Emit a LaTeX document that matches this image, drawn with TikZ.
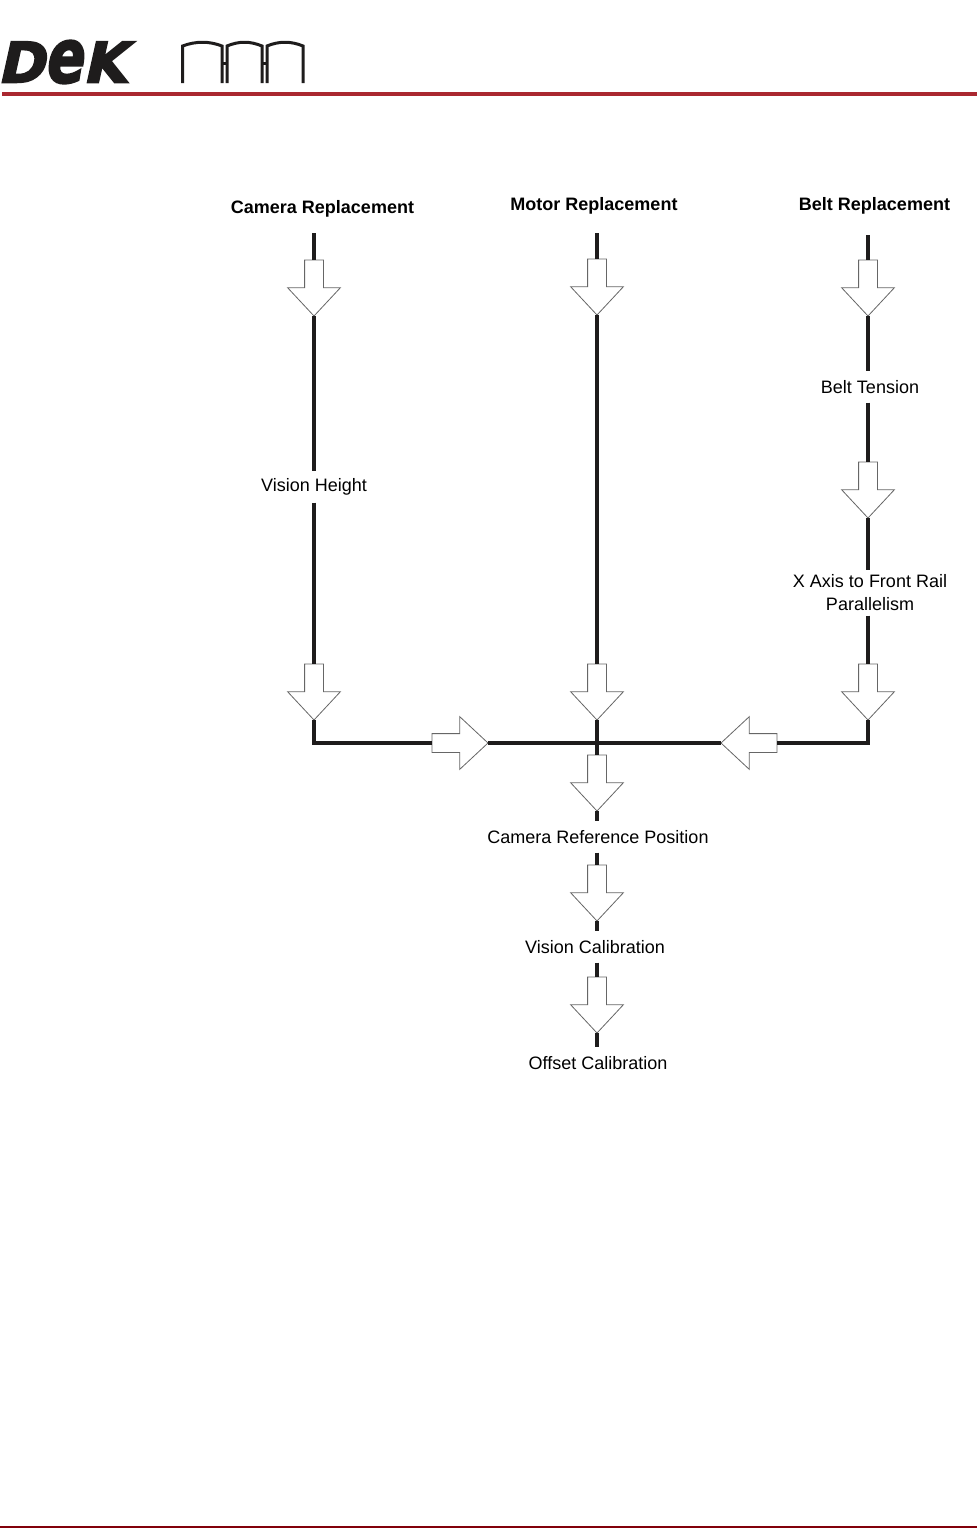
\documentclass[tikz,border=0pt]{standalone}
\usepackage{fontspec}
\usepackage{graphicx}
\setmainfont{Liberation Sans}
\newfontfamily\logofont[FakeBold=3,FakeSlant=0.22]{DejaVu Sans Bold}
\usetikzlibrary{shapes.arrows, positioning}
\definecolor{rulered}{RGB}{170,40,48}
\definecolor{footred}{RGB}{130,0,10}
\definecolor{flowblack}{RGB}{30,28,28}
\tikzset{
    flowline/.style={line width=4pt, flowblack},
    blockarrow/.style={single arrow, draw=black!60, fill=white, line width=0.8pt,
        minimum height=56pt, minimum width=52pt, single arrow head extend=17pt,
        single arrow tip angle=86, inner sep=9pt, outer sep=0pt, anchor=tip},
    downarrow/.style={blockarrow, shape border rotate=270},
    steplabel/.style={font=\fontsize{18}{23}\selectfont, text=black, align=center,
        inner sep=0pt, minimum height=31pt},
    headlabel/.style={font=\fontsize{18}{23}\selectfont\bfseries, text=black, inner sep=0pt},
    archline/.style={line width=3pt, flowblack}
}

\begin{document}
\begin{tikzpicture}[x=1pt, y=-1pt]
    \useasboundingbox (0,0) rectangle (979,1529);

    % Logo and rules
    \node[inner sep=0pt, anchor=west, text=flowblack] (logotext) at (-3,62)
        {\resizebox{129pt}{42pt}{\logofont D\scalebox{1}[1.34]{e}K}};
    \draw[archline] (182.5,83) -- (182.5,46) .. controls (196,41) and (209,41) .. (222,46) -- (222,83);
    \draw[archline] (227,83) -- (227,46) .. controls (239,41) and (250,41) .. (262,46) -- (262,83);
    \draw[archline] (267,83) -- (267,46) .. controls (279,41) and (291,41) .. (303,46) -- (303,83);
    \draw[archline] (222,63) -- (227,63);
    \draw[archline] (262,63) -- (267,63);
    \draw[line width=4pt, rulered] (2,94) -- (977,94);
    \draw[line width=1.2pt, footred] (0,1527) -- (977,1527);

    % Headings
    \node[headlabel] (camerahead) at (322.5,209) {Camera Replacement};
    \node[headlabel] (motorhead) at (594,206) {Motor Replacement};
    \node[headlabel] (belthead) at (874.5,206) {Belt Replacement};
    \coordinate (camerastart) at (314,233);
    \coordinate (motorstart) at (597,233);
    \coordinate (beltstart) at (868,235);

    % Labels
    \node[steplabel] (visionheight) at (314,487) {Vision Height};
    \node[steplabel] (belttension) at (870,387) {Belt Tension};
    \node[steplabel, minimum height=45pt] (xaxis) at (870,593) {X Axis to Front Rail\\Parallelism};
    \node[steplabel] (camerapos) at (598,837) {Camera Reference Position};
    \node[steplabel] (visioncal) at (595,947) {Vision Calibration};
    \node[steplabel] (offsetcal) at (598,1063) {Offset Calibration};

    % Camera column
    \node[downarrow] (cameraone) at (314,316) {};
    \node[downarrow] (cameratwo) at (314,720) {};
    % Motor column
    \node[downarrow] (motorone) at (597,315) {};
    \node[downarrow] (motortwo) at (597,720) {};
    \node[downarrow] (mergearrow) at (597,811) {};
    \node[downarrow] (posarrow) at (597,921) {};
    \node[downarrow] (calarrow) at (597,1033) {};
    % Belt column
    \node[downarrow] (beltone) at (868,316) {};
    \node[downarrow] (belttwo) at (868,518) {};
    \node[downarrow] (beltthree) at (868,720) {};
    % Merge arrows
    \node[blockarrow] (mergeright) at (488,743) {};
    \node[blockarrow, shape border rotate=180] (mergeleft) at (721,743) {};

    % Connectors
    \draw[flowline] (camerastart) -- (cameraone.tail);
    \draw[flowline] (cameraone.tip) -- (cameraone.tip |- visionheight.north);
    \draw[flowline] (cameratwo.tail |- visionheight.south) -- (cameratwo.tail);
    \draw[flowline] (cameratwo.tip) |- (mergeright.tail);
    \draw[flowline] (motorstart) -- (motorone.tail);
    \draw[flowline] (motorone.tip) -- (motortwo.tail);
    \draw[flowline] (motortwo.tip) -- (mergearrow.tail);
    \draw[flowline] (mergeright.tip) -- (mergeleft.tip);
    \draw[flowline] (mergearrow.tip) -- (mergearrow.tip |- camerapos.north);
    \draw[flowline] (posarrow.tail |- camerapos.south) -- (posarrow.tail);
    \draw[flowline] (posarrow.tip) -- (posarrow.tip |- visioncal.north);
    \draw[flowline] (calarrow.tail |- visioncal.south) -- (calarrow.tail);
    \draw[flowline] (calarrow.tip) -- (calarrow.tip |- offsetcal.north);
    \draw[flowline] (beltstart) -- (beltone.tail);
    \draw[flowline] (beltone.tip) -- (beltone.tip |- belttension.north);
    \draw[flowline] (belttwo.tail |- belttension.south) -- (belttwo.tail);
    \draw[flowline] (belttwo.tip) -- (belttwo.tip |- xaxis.north);
    \draw[flowline] (beltthree.tail |- xaxis.south) -- (beltthree.tail);
    \draw[flowline] (beltthree.tip) |- (mergeleft.tail);
\end{tikzpicture}
\end{document}
